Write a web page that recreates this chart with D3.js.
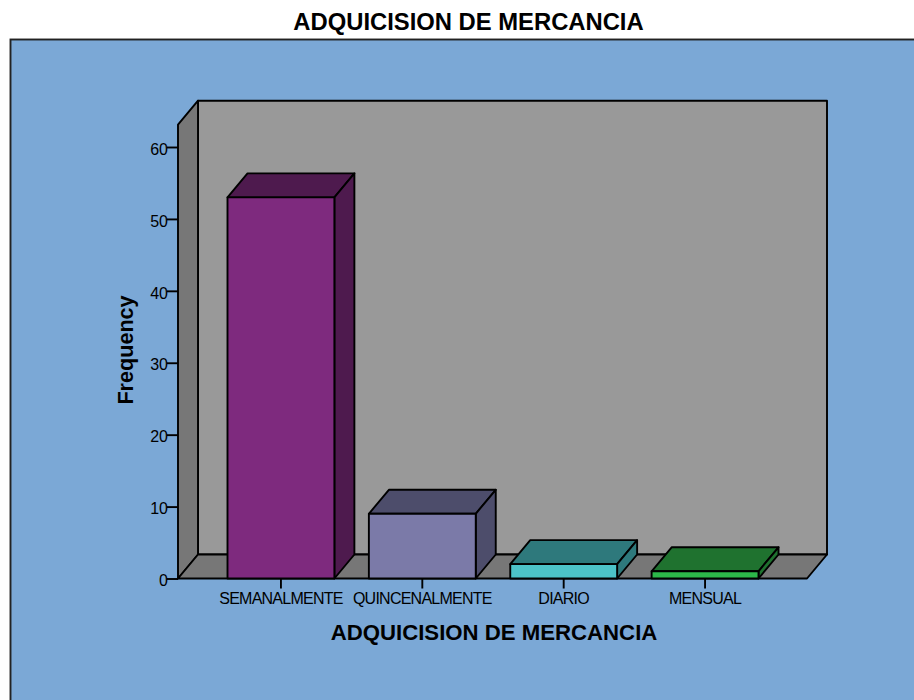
<!DOCTYPE html>
<html><head><meta charset="utf-8">
<script src="https://cdn.jsdelivr.net/npm/d3@7"></script>
<style>html,body{margin:0;padding:0;background:#fff}svg{display:block}text{font-family:"Liberation Sans",Arial,sans-serif;fill:#000}</style>
</head><body><svg id="c" width="914" height="700"></svg>
<script>
const categories = ["SEMANALMENTE","QUINCENALMENTE","DIARIO","MENSUAL"];
const frequency = [53,9,2,1];
const frontColors = ["#7e2a7e","#7b7aa8","#4cc3c8","#2db84a"];
const darkColors = ["#4e1a4e","#4d4d6b","#2e797c","#1f722f"];
const tickValues = [0,10,20,30,40,50,60];
const chartTitle = "ADQUICISION DE MERCANCIA";
const yTitle = "Frequency";

const svg = d3.select("#c");
const depthX = 20, depthY = -24;
const y = d3.scaleLinear().domain([0,60]).range([578.5,147]);
const yMax = 63.1;
const wallX = d3.scaleLinear().domain([0,1]).range([178,807]);
const x = d3.scaleBand().domain(categories).range([227.5,758.5]).paddingInner(0.244).paddingOuter(0);
const line = d3.line();
const ink = "#000";
const sw = 1.9;

svg.append("rect").attr("x",10.5).attr("y",39.5).attr("width",960).attr("height",720)
  .attr("fill","#7ba8d6").attr("stroke","#222").attr("stroke-width",sw);

svg.append("text").attr("x",468.5).attr("y",30).attr("text-anchor","middle")
  .attr("font-size",23.8).attr("font-weight","bold").text(chartTitle);

const x0 = wallX(0), x1 = wallX(1), y0 = y(0), yT = y(yMax);
const poly = (pts,fill)=>svg.append("path").attr("d",line(pts)+"Z").attr("fill",fill)
  .attr("stroke",ink).attr("stroke-width",sw).attr("stroke-linejoin","round");
poly([[x0+depthX,y0+depthY],[x1+depthX,y0+depthY],[x1+depthX,yT+depthY],[x0+depthX,yT+depthY]],"#999999");
poly([[x0,y0],[x0+depthX,y0+depthY],[x0+depthX,yT+depthY],[x0,yT]],"#777777");
poly([[x0,y0],[x1,y0],[x1+depthX,y0+depthY],[x0+depthX,y0+depthY]],"#777777");

const bars = svg.append("g").selectAll("g").data(categories).join("g");
bars.each(function(c,i){
  const g = d3.select(this), l = x(c), r = l+x.bandwidth(), t = y(frequency[i]), b = y(0);
  const p = (pts,fill)=>g.append("path").attr("d",line(pts)+"Z").attr("fill",fill)
    .attr("stroke",ink).attr("stroke-width",sw).attr("stroke-linejoin","round");
  p([[l,t],[r,t],[r+depthX,t+depthY],[l+depthX,t+depthY]],darkColors[i]);
  p([[r,t],[r,b],[r+depthX,b+depthY],[r+depthX,t+depthY]],darkColors[i]);
  p([[l,t],[r,t],[r,b],[l,b]],frontColors[i]);
});

const yAxis = d3.axisLeft(y).tickValues(tickValues).tickSize(11).tickPadding(-1).tickFormat(d3.format("d"));
const gy = svg.append("g").attr("transform",`translate(${x0},0)`).call(yAxis);
gy.select(".domain").remove();
gy.selectAll(".tick line").attr("stroke",ink).attr("stroke-width",sw);
gy.selectAll("text").attr("font-size",16).attr("dy","0.45em").style("font-family",'"Liberation Sans",Arial,sans-serif').attr("fill","#000");

const xAxis = d3.axisBottom(x).tickSize(10).tickPadding(4);
const gx = svg.append("g").attr("transform",`translate(0,${y0})`).call(xAxis);
gx.select(".domain").remove();
gx.selectAll(".tick line").attr("stroke",ink).attr("stroke-width",sw);
gx.selectAll("text").attr("font-size",16).style("letter-spacing","-0.75px")
  .style("font-family",'"Liberation Sans",Arial,sans-serif').attr("fill","#000");

svg.append("text").attr("x",494).attr("y",640).attr("text-anchor","middle")
  .attr("font-size",22.2).attr("font-weight","bold").text(chartTitle);
svg.append("text").attr("transform","translate(133,350) rotate(-90)").attr("text-anchor","middle")
  .attr("font-size",21.6).attr("font-weight","bold").text(yTitle);
</script></body></html>
